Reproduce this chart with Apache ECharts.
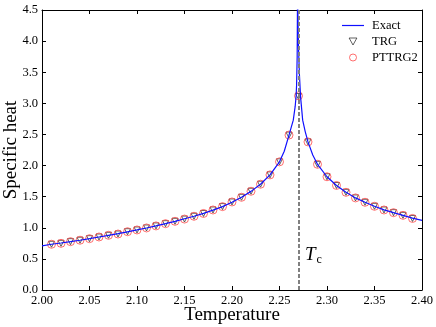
<!DOCTYPE html>
<html>
<head>
<meta charset="utf-8">
<script src="https://cdn.jsdelivr.net/npm/echarts@6/dist/echarts.min.js"></script>
<style>
  html, body { margin: 0; padding: 0; background: #fff; }
  #chart { width: 436px; height: 327px; }
</style>
</head>
<body>
<div id="chart"></div>
<script>
// temperatures of the TRG / PTTRG2 points
var temps = [2.01, 2.02, 2.03, 2.04, 2.05, 2.06, 2.07, 2.08, 2.09, 2.10,
             2.11, 2.12, 2.13, 2.14, 2.15, 2.16, 2.17, 2.18, 2.19, 2.20,
             2.21, 2.22, 2.23, 2.24, 2.25, 2.26, 2.27, 2.28, 2.29, 2.30,
             2.31, 2.32, 2.33, 2.34, 2.35, 2.36, 2.37, 2.38, 2.39];
var trgValues = [0.735, 0.75, 0.777, 0.80, 0.825, 0.852, 0.879, 0.90, 0.937, 0.965,
                 0.997, 1.03, 1.066, 1.104, 1.14, 1.185, 1.23, 1.286, 1.34, 1.415,
                 1.49, 1.587, 1.70, 1.85, 2.06, 2.49, 3.11, 2.38, 2.02, 1.82,
                 1.68, 1.57, 1.48, 1.41, 1.345, 1.286, 1.243, 1.20, 1.15];
var pttrgValues = [0.735, 0.75, 0.777, 0.80, 0.825, 0.852, 0.879, 0.90, 0.937, 0.965,
                   0.997, 1.03, 1.066, 1.104, 1.14, 1.185, 1.23, 1.286, 1.34, 1.415,
                   1.49, 1.587, 1.70, 1.85, 2.06, 2.49, 3.12, 2.38, 2.02, 1.82,
                   1.68, 1.57, 1.48, 1.41, 1.345, 1.286, 1.243, 1.20, 1.15];

// exact curve (denser near the peak)
var exactT = [2.00, 2.01, 2.02, 2.03, 2.04, 2.05, 2.06, 2.07, 2.08, 2.09,
              2.10, 2.11, 2.12, 2.13, 2.14, 2.15, 2.16, 2.17, 2.18, 2.19,
              2.20, 2.21, 2.22, 2.23, 2.24, 2.25, 2.255, 2.26, 2.2645, 2.2665,
              2.2675, 2.268, 2.2686, 2.2690,
              2.2694, 2.2700, 2.2710, 2.2722, 2.2744, 2.277, 2.28, 2.285,
              2.29, 2.30, 2.31, 2.32, 2.33, 2.34, 2.35, 2.36, 2.37, 2.38,
              2.39, 2.40];
var exactC = [0.71, 0.735, 0.755, 0.777, 0.80, 0.825, 0.852, 0.879, 0.905, 0.935,
              0.965, 0.997, 1.03, 1.066, 1.104, 1.145, 1.185, 1.232, 1.283, 1.34,
              1.41, 1.49, 1.585, 1.70, 1.85, 2.06, 2.23, 2.49, 2.73, 2.95,
              3.12, 3.30, 3.75, 4.8,
              4.8, 3.90, 3.45, 3.10, 2.73, 2.55, 2.38, 2.17,
              2.02, 1.82, 1.68, 1.57, 1.48, 1.41, 1.345, 1.288, 1.243, 1.20,
              1.155, 1.12];

var tc = 2.269;
var xTicks = { min: 2.0, max: 2.4, step: 0.05 };
var yTicks = { min: 0, max: 4.5, step: 0.5 };

function pairs(xs, ys) {
  return xs.map(function (x, i) { return [x, ys[i]]; });
}

var serif = 'Liberation Serif';
var blue = '#1010ff';
var red = '#ff4a4a';
var chart = echarts.init(document.getElementById('chart'), null, { renderer: 'canvas' });

var frameX = {
  type: 'value', min: xTicks.min, max: xTicks.max, interval: xTicks.step,
  axisLine: { show: true, onZero: false, lineStyle: { color: '#000', width: 1 } },
  axisTick: { show: true, inside: true, length: 4, lineStyle: { color: '#000' } },
  splitLine: { show: false }
};
var frameY = {
  type: 'value', min: yTicks.min, max: yTicks.max, interval: yTicks.step,
  axisLine: { show: true, onZero: false, lineStyle: { color: '#000', width: 1 } },
  axisTick: { show: true, inside: true, length: 4, lineStyle: { color: '#000' } },
  splitLine: { show: false }
};

chart.setOption({
  animation: false,
  backgroundColor: '#fff',
  grid: { left: 42, right: 14, top: 10, bottom: 37, containLabel: false, outerBoundsMode: 'none' },
  xAxis: [
    Object.assign({}, frameX, {
      position: 'bottom',
      axisLabel: { fontFamily: serif, fontSize: 12.5, color: '#000', margin: 4,
        formatter: function (v) { return v.toFixed(2); } }
    }),
    Object.assign({}, frameX, { position: 'top', axisLabel: { show: false } })
  ],
  yAxis: [
    Object.assign({}, frameY, {
      position: 'left',
      axisLabel: { fontFamily: serif, fontSize: 12.5, color: '#000', margin: 4,
        formatter: function (v) { return v.toFixed(1); } }
    }),
    Object.assign({}, frameY, { position: 'right', axisLabel: { show: false } })
  ],
  legend: {
    orient: 'vertical', left: 337, top: 14,
    itemWidth: 22, itemHeight: 7, itemGap: 3,
    symbolKeepAspect: true,
    textStyle: { fontFamily: serif, fontSize: 12.5, color: '#000', padding: [0, 0, 0, 3] },
    data: [
      { name: 'Exact', icon: 'path://M0,0H22V1.2H0Z',
        itemStyle: { color: blue, borderWidth: 0 } },
      { name: 'TRG', icon: 'path://M0,0L10,0L5,9Z',
        itemStyle: { color: 'rgba(0,0,0,0)', borderColor: '#222', borderWidth: 0.9 } },
      { name: 'PTTRG2', icon: 'circle',
        itemStyle: { color: 'rgba(0,0,0,0)', borderColor: red, borderWidth: 1 } }
    ]
  },
  series: [
    {
      name: 'Exact', type: 'line', xAxisIndex: 0, yAxisIndex: 0,
      data: pairs(exactT, exactC),
      showSymbol: false, symbol: 'none', clip: true,
      lineStyle: { color: blue, width: 1.2 },
      itemStyle: { color: blue },
      markLine: {
        silent: true, symbol: ['none', 'none'],
        label: { show: false },
        lineStyle: { type: [4, 2], color: '#808080', width: 2 },
        data: [{ xAxis: tc }]
      }
    },
    {
      name: 'TRG', type: 'scatter', data: pairs(temps, trgValues),
      symbol: 'triangle', symbolRotate: 180, symbolSize: 6,
      itemStyle: { color: 'rgba(0,0,0,0)', borderColor: '#222', borderWidth: 0.9 }
    },
    {
      name: 'PTTRG2', type: 'scatter', data: pairs(temps, pttrgValues),
      symbol: 'circle', symbolSize: 8,
      itemStyle: { color: 'rgba(0,0,0,0)', borderColor: red, borderWidth: 1 }
    }
  ],
  graphic: [
    {
      type: 'text', x: 232, y: 315,
      style: { text: 'Temperature', fontFamily: serif, fontSize: 19, fill: '#000',
        align: 'center', verticalAlign: 'middle' }
    },
    {
      type: 'text', x: 11, y: 150, rotation: Math.PI / 2,
      style: { text: 'Specific heat', fontFamily: serif, fontSize: 19, fill: '#000',
        align: 'center', verticalAlign: 'middle' }
    },
    {
      type: 'text', left: 305, top: 245,
      style: {
        text: '{t|T}{c|c}',
        rich: {
          t: { fontFamily: serif, fontStyle: 'italic', fontSize: 19, fill: '#000' },
          c: { fontFamily: serif, fontSize: 12, fill: '#000', padding: [10, 0, 0, 1] }
        }
      }
    }
  ]
});
</script>
</body>
</html>
